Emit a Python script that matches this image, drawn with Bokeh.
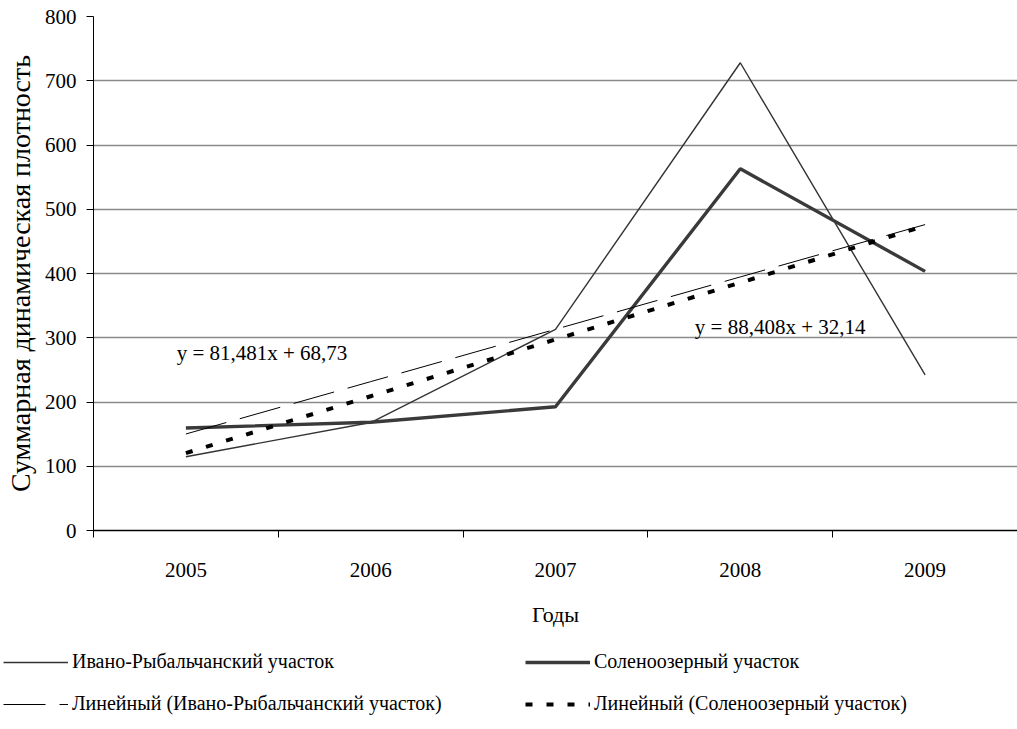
from bokeh.plotting import figure
from bokeh.models import (ColumnDataSource, FixedTicker, Legend, LegendItem,
                          Range1d, Label)
from bokeh.embed import file_html
from bokeh.resources import INLINE

# --- data -------------------------------------------------------------
years = ["2005", "2006", "2007", "2008", "2009"]
ivano = [114.8, 168, 313, 728, 242.1]        # Ивано-Рыбальчанский участок
soleno = [159.5, 168.5, 192.5, 563, 403.3]    # Соленоозерный участок

# linear trend coefficients (y = a*x + b, x = 1..5)
ivano_trend = (81.481, 68.73)
soleno_trend = (88.408, 32.14)
ivano_eq = "y = 81,481x + 68,73"
soleno_eq = "y = 88,408x + 32,14"

y_ticks = [0, 100, 200, 300, 400, 500, 600, 700, 800]

series_names = ["Ивано-Рыбальчанский участок", "Соленоозерный участок",
                "Линейный (Ивано-Рыбальчанский участок)",
                "Линейный (Соленоозерный участок)"]

FONT = "Liberation Serif"

# line styles: (colour, width, dash)
STYLES = [("#333333", 1.4, "solid"), ("#3a3a3a", 3.4, "solid"),
          ("black", 1, "42 14"), ("black", 4, "7 14")]

xs = list(range(1, len(years) + 1))
src = ColumnDataSource(dict(
    x=xs,
    ivano=ivano,
    soleno=soleno,
    ivano_fit=[ivano_trend[0] * x + ivano_trend[1] for x in xs],
    soleno_fit=[soleno_trend[0] * x + soleno_trend[1] for x in xs],
))

p = figure(frame_width=924, frame_height=514, output_backend="svg",
           toolbar_location=None,
           x_range=Range1d(0.5, len(years) + 0.5), y_range=Range1d(0, 800),
           min_border_left=93, min_border_right=0, min_border_top=16,
           min_border_bottom=110)
p.outline_line_color = None
p.background_fill_color = "white"
p.border_fill_color = "white"

# grid
p.xgrid.grid_line_color = None
p.ygrid.grid_line_color = "#8a8a8a"
p.ygrid.grid_line_width = 1.3
p.ygrid.ticker = FixedTicker(ticks=y_ticks)

# y axis
p.yaxis.ticker = FixedTicker(ticks=y_ticks)
p.yaxis.axis_line_color = "black"
p.yaxis.axis_line_width = 1
p.yaxis.major_tick_in = 0
p.yaxis.major_tick_out = 7
p.yaxis.minor_tick_out = 0
p.yaxis.minor_tick_in = 0
p.yaxis.major_label_standoff = 10
p.yaxis.major_label_text_font = FONT
p.yaxis.major_label_text_font_size = "21px"
p.yaxis.major_label_text_color = "black"
p.yaxis.axis_label = "Суммарная динамическая плотность"
p.yaxis.axis_label_text_font = FONT
p.yaxis.axis_label_text_font_size = "28px"
p.yaxis.axis_label_text_font_style = "normal"
p.yaxis.axis_label_text_color = "black"
p.yaxis.axis_label_standoff = 6

# x axis: labels at category centres, tick marks at category boundaries
p.xaxis.ticker = FixedTicker(ticks=xs, minor_ticks=[x - 0.5 for x in xs] + [xs[-1] + 0.5])
p.xaxis.major_label_overrides = {x: y for x, y in zip(xs, years)}
p.xaxis.axis_line_color = "black"
p.xaxis.axis_line_width = 1.6
p.xaxis.major_tick_in = 0
p.xaxis.major_tick_out = 0
p.xaxis.minor_tick_in = 0
p.xaxis.minor_tick_out = 7
p.xaxis.minor_tick_line_color = "black"
p.xaxis.major_label_standoff = 25
p.xaxis.major_label_text_font = FONT
p.xaxis.major_label_text_font_size = "21px"
p.xaxis.major_label_text_color = "black"
p.xaxis.axis_label = "Годы"
p.xaxis.axis_label_text_font = FONT
p.xaxis.axis_label_text_font_size = "22px"
p.xaxis.axis_label_text_font_style = "normal"
p.xaxis.axis_label_text_color = "black"
p.xaxis.axis_label_standoff = 22

# series and trend lines
for col, (color, width, dash) in zip(["ivano", "soleno", "ivano_fit", "soleno_fit"], STYLES):
    p.line("x", col, source=src, line_color=color, line_width=width, line_dash=dash)

# trend equations
p.add_layout(Label(x=0.95, y=277, text=ivano_eq, text_font=FONT,
                   text_font_size="21px", text_baseline="middle", text_color="black"))
p.add_layout(Label(x=3.754, y=317, text=soleno_eq, text_font=FONT,
                   text_font_size="21px", text_baseline="middle", text_color="black"))

# legend strip under the chart (its renderers sit outside the visible range)
leg = figure(width=1017, height=89, output_backend="svg", toolbar_location=None,
             x_axis_location=None, y_axis_location=None,
             x_range=Range1d(0, 1), y_range=Range1d(0, 1),
             min_border_left=0, min_border_right=0, min_border_top=0,
             min_border_bottom=0)
leg.outline_line_color = None
leg.xgrid.grid_line_color = None
leg.ygrid.grid_line_color = None

items = []
for name, (color, width, dash) in zip(series_names, STYLES):
    r = leg.line(x=[-5, -4], y=[-5, -4], line_color=color, line_width=width,
                 line_dash=dash)
    items.append(LegendItem(label=name, renderers=[r]))

legend = Legend(items=items, ncols=2, orientation="horizontal", location=(3, 14),
                glyph_width=65, glyph_height=20, label_standoff=4, spacing=19,
                label_width=434, padding=0, margin=0, border_line_color=None,
                background_fill_alpha=0,
                label_text_font=FONT, label_text_font_size="20px",
                label_text_color="black")
leg.add_layout(legend)

# chart and legend strip as two independent roots, one above the other
open("out.html", "w").write(file_html([p, leg], INLINE))
